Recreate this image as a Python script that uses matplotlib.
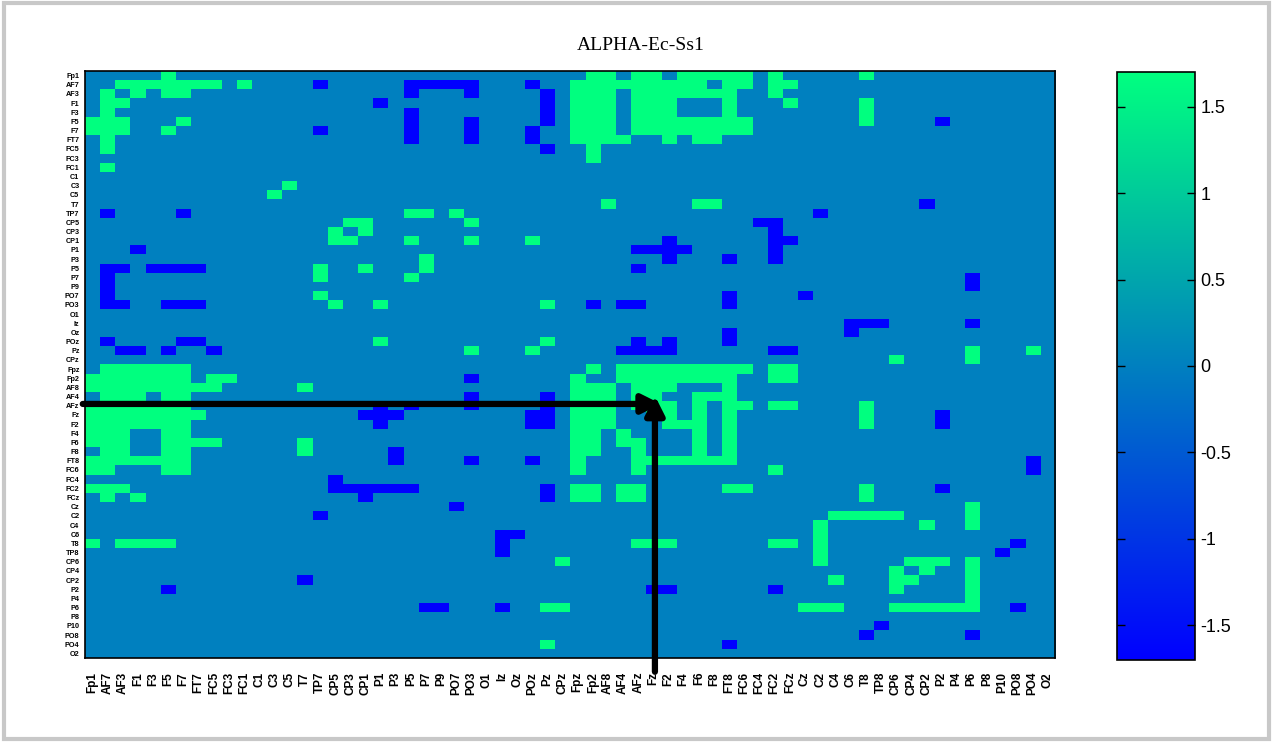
import numpy as np
import matplotlib.pyplot as plt
from matplotlib.patches import Rectangle

channels = ['Fp1', 'AF7', 'AF3', 'F1', 'F3', 'F5', 'F7', 'FT7', 'FC5', 'FC3', 'FC1', 'C1', 'C3', 'C5', 'T7', 'TP7',
            'CP5', 'CP3', 'CP1', 'P1', 'P3', 'P5', 'P7', 'P9', 'PO7', 'PO3', 'O1', 'Iz', 'Oz', 'POz', 'Pz', 'CPz',
            'Fpz', 'Fp2', 'AF8', 'AF4', 'AFz', 'Fz', 'F2', 'F4', 'F6', 'F8', 'FT8', 'FC6', 'FC4', 'FC2', 'FCz', 'Cz',
            'C2', 'C4', 'C6', 'T8', 'TP8', 'CP6', 'CP4', 'CP2', 'P2', 'P4', 'P6', 'P8', 'P10', 'PO8', 'PO4', 'O2']

high_val = 1.7
low_val = -1.7

# channel pairs (row -> columns, 1-based) with significant increase
high = {
    1: "6 34-35 37-38 40-44 46 52",
    2: "3-9 11 33-41 43-44 46-47",
    3: "2 4 6-7 33-35 37-43 46",
    4: "2-3 33-35 37-39 43 47 52",
    5: "2 33-35 37-39 43 52",
    6: "1-3 7 33-35 37-44 52",
    7: "1-3 6 33-35 37-44",
    8: "2 33-36 39 41-42",
    9: "2 34",
    10: "34",
    11: "2",
    13: "14",
    14: "13",
    15: "35 41-42",
    16: "22-23 25",
    17: "18-19 26",
    18: "17 19",
    19: "17-18 22 26 30",
    21: "23",
    22: "16 19 23",
    23: "16 22",
    25: "16",
    26: "17 20 31",
    30: "20 31",
    31: "26 30 59 63",
    32: "54 59",
    33: "2-7 34 36-44 46-47",
    34: "1-7 9-10 33 36-43 46-47",
    35: "1-9 15 33-35 37-39 43",
    36: "2-4 6-7 33-35 37-38 41-42 43",
    37: "1-7 33-35 37-39 41 43-44 46-47 52",
    38: "1-8 33-35 38-39 41 43 52",
    39: "1-7 33-35 39-41 43 52",
    40: "1-3 6-7 33-34 36 41 43",
    41: "1-3 6-9 15 33-34 36-37 41 43",
    42: "2-3 6-7 15 33-34 37 41 43",
    43: "1-7 33 37-43",
    44: "1-2 6-7 33 37 46",
    46: "1-3 33-34 36-37 43-44 52",
    47: "2 4 33-34 36-37 52",
    48: "59",
    49: "50-54 59",
    50: "49 56 59",
    51: "49",
    52: "1 3-6 37-39 46-47 49",
    53: "49",
    54: "32 49 55-57 59",
    55: "54 56 59",
    56: "50 54-55 59",
    57: "54 59",
    58: "59",
    59: "31-32 48-50 54-59",
    63: "31",
}

# channel pairs with significant decrease
low = {
    2: "16 22-26 30",
    3: "22 26 31",
    4: "20 31",
    5: "22 31",
    6: "22 26 31 57",
    7: "16 22 26 30",
    8: "22 26 30",
    9: "31",
    15: "56",
    16: "2 7 49",
    17: "45-46",
    18: "46",
    19: "39 46-47",
    20: "4 37-40 46",
    21: "39 43 46",
    22: "2-3 5-8 37",
    23: "2 59",
    24: "2 59",
    25: "2 43 48",
    26: "2-3 6-8 34 36-37 43",
    28: "51-53 59",
    29: "43 51",
    30: "2 7-8 37 39 43",
    31: "3-4 6 9 36-39 46-47",
    34: "26",
    36: "26 31",
    37: "20 22 26 31",
    38: "19-21 30-31 57",
    39: "20 30-31 57",
    42: "21",
    43: "21 26 30 63",
    44: "63",
    45: "17",
    46: "17-22 31 57",
    47: "19 31",
    48: "25",
    49: "16",
    51: "28-29",
    52: "28 62",
    53: "28 61",
    56: "15",
    57: "6 38-39 46",
    59: "23-24 28 62",
    61: "53",
    62: "52 59",
    63: "43",
}


def cols_of(s):
    out = []
    for part in s.split():
        if '-' in part:
            a, b = part.split('-')
            out += list(range(int(a), int(b) + 1))
        else:
            out.append(int(part))
    return out


n = len(channels)
M = np.zeros((n, n))
for r, s in high.items():
    for c in cols_of(s):
        M[r - 1, c - 1] = high_val
for r, s in low.items():
    for c in cols_of(s):
        M[r - 1, c - 1] = low_val

fig = plt.figure(figsize=(12.73, 7.42), dpi=100)
fig.patch.set_facecolor('white')
fig.patches.append(Rectangle((0.003, 0.004), 0.994, 0.992, transform=fig.transFigure,
                             fill=False, edgecolor='#c8c8c8', lw=3))

ax = fig.add_axes([0.0668, 0.1132, 0.762, 0.7911])
im = ax.imshow(M, cmap='winter', vmin=-1.7, vmax=1.7, aspect='auto', interpolation='nearest')

ax.set_xticks(range(n))
ax.set_xticklabels(channels, rotation=90, fontsize=8.5, fontweight='bold', family='Liberation Sans')
ax.set_yticks(range(n))
ax.set_yticklabels(channels, fontsize=5.2, fontweight='bold', family='Liberation Sans')
ax.tick_params(axis='x', which='major', length=0, pad=10)
ax.tick_params(axis='y', which='major', length=0, pad=4)
ax.set_xticks(np.arange(9, n, 10), minor=True)
ax.set_yticks(np.arange(9, n, 10), minor=True)
ax.tick_params(which='minor', direction='in', length=4, width=1, top=True, right=True, color='#222222')
for sp in ax.spines.values():
    sp.set_linewidth(1.2)

fig.text(0.503, 1 - 45 / 742, 'ALPHA-Ec-Ss1', ha='center', va='center',
         family='Liberation Serif', fontsize=14)

cax = fig.add_axes([0.8775, 0.1105, 0.0613, 0.7925])
cb = fig.colorbar(im, cax=cax)
cb.set_ticks([-1.5, -1, -0.5, 0, 0.5, 1, 1.5])
cb.set_ticklabels(['-1.5', '-1', '-0.5', '0', '0.5', '1', '1.5'])
cax.tick_params(direction='in', length=6, width=1, left=True, right=True, labelsize=13, pad=4)
for t in cax.get_yticklabels():
    t.set_family('Liberation Sans')
cb.outline.set_linewidth(1.2)

# arrows pointing at the AFz-Fz cell
arrow = dict(arrowstyle='-|>', lw=4.5, color='black', mutation_scale=28, shrinkA=0, shrinkB=0)
ax.annotate('', xy=(37.5, 35.8), xytext=(-0.65, 35.8), arrowprops=arrow, annotation_clip=False)
ax.annotate('', xy=(37.1, 34.9), xytext=(37.1, 65.0), arrowprops=arrow, annotation_clip=False)

fig.savefig('out.png', dpi=100)
